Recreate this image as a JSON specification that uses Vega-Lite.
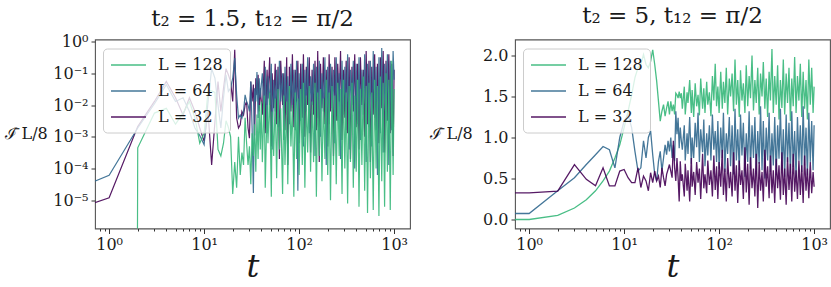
{
"$schema": "https://vega.github.io/schema/vega-lite/v6.json",
"padding": {"left": 3, "top": 3.5, "right": 2, "bottom": 2},
"background": "white",
"config": {
  "view": {"stroke": "#555555", "strokeWidth": 1.1},
  "axis": {"grid": false, "domain": false, "labelFont": "DejaVu Serif", "labelFontSize": 16, "labelColor": "#1a1a1a", "tickColor": "#333333", "tickWidth": 1, "labelPadding": 3, "labelFlush": false, "labelOverlap": false, "titleFont": "DejaVu Serif", "titleFontWeight": "normal", "titleColor": "#1a1a1a"},
  "title": {"font": "DejaVu Serif", "fontSize": 23, "fontWeight": "normal", "color": "#1a1a1a", "baseline": "alphabetic"}
},
"datasets": {"d": [
{"t":0.5,"a128":1e-300,"a64":2.6e-5,"a32":6e-6,"b128":0,"b64":0.073,"b32":0.325},
{"t":1,"a128":1e-300,"a64":6.2e-5,"a32":1.2e-5,"b128":0,"b64":0.073,"b32":0.325},
{"t":2,"a128":4.5e-4,"a64":1.9e-3,"a32":2.1e-3,"b128":0.05,"b64":0.35,"b32":0.345},
{"t":3,"a128":5.6e-3,"a64":1.1e-2,"a32":1.3e-2,"b128":0.14,"b64":0.51,"b32":0.67},
{"t":4,"a128":7.9e-3,"a64":4.4e-2,"a32":5.5e-2,"b128":0.24,"b64":0.67,"b32":0.49},
{"t":5,"a128":2.5e-3,"a64":1.3e-2,"a32":1.7e-2,"b128":0.35,"b64":0.79,"b32":0.41},
{"t":6,"a128":5.6e-3,"a64":1.7e-2,"a32":4.9e-3,"b128":0.47,"b64":0.89,"b32":0.63},
{"t":7,"a128":1.3e-2,"a64":6.3e-3,"a32":1.7e-2,"b128":0.59,"b64":0.85,"b32":0.41},
{"t":8,"a128":4e-3,"a64":1.9e-3,"a32":6.3e-3,"b128":0.75,"b64":0.63,"b32":0.41},
{"t":9,"a128":6.3e-4,"a64":1.1e-3,"a32":1.9e-3,"b128":0.91,"b64":1.0,"b32":0.59},
{"t":10,"a128":1.3e-3,"a64":5.6e-4,"a32":7.2e-4,"b128":1.12,"b64":1.2,"b32":0.61},
{"t":11,"a128":2.8e-2,"a64":1.3e-2,"a32":6.3e-3,"b128":1.32,"b64":1.28,"b32":0.51},
{"t":12,"a128":2.8e-2,"a64":1.4e-1,"a32":1.3e-4,"b128":1.52,"b64":1.12,"b32":0.45},
{"t":13,"a128":2.5e-2,"a64":7e-2,"a32":3e-3,"b128":1.73,"b64":0.83,"b32":0.45},
{"t":14,"a128":4e-4,"a64":1e-2,"a32":5.5e-2,"b128":1.85,"b64":0.59,"b32":0.63},
{"t":15,"a128":2.5e-4,"a64":1.9e-3,"a32":6.3e-3,"b128":1.89,"b64":0.63,"b32":0.39},
{"t":16,"a128":6.3e-4,"a64":1.7e-2,"a32":3.4e-2,"b128":2.01,"b64":0.96,"b32":0.53},
{"t":17,"a128":3.2e-3,"a64":9e-2,"a32":1.4e-1,"b128":1.89,"b64":0.75,"b32":0.47},
{"t":18,"a128":2e-3,"a64":2.7e-2,"a32":9e-2,"b128":1.85,"b64":1.0,"b32":0.35},
{"t":19,"a128":1e-3,"a64":3.4e-2,"a32":5.5e-2,"b128":1.93,"b64":1.08,"b32":0.57},
{"t":20,"a128":1.6e-5,"a64":7e-2,"a32":1.3e-2,"b128":2.07,"b64":0.79,"b32":0.45},
{"t":21,"a128":1.6e-4,"a64":3e-1,"a32":5.5e-1,"b128":1.89,"b64":0.55,"b32":0.59},
{"t":22,"a128":2.5e-5,"a64":2.1e-2,"a32":3.9e-3,"b128":1.69,"b64":0.47,"b32":0.47},
{"t":23,"a128":1e-3,"a64":3.9e-3,"a32":1.9e-3,"b128":1.44,"b64":0.71,"b32":0.53},
{"t":24,"a128":6.3e-5,"a64":4.9e-3,"a32":2.4e-3,"b128":1.2,"b64":0.83,"b32":0.39},
{"t":25,"a128":3.2e-4,"a64":3.9e-3,"a32":6.3e-3,"b128":1.32,"b64":0.59,"b32":0.63},
{"t":26,"a128":1.3e-4,"a64":6.3e-3,"a32":4.9e-3,"b128":1.40,"b64":0.75,"b32":0.51},
{"t":27,"a128":4e-3,"a64":2.1e-2,"a32":1e-2,"b128":1.26,"b64":0.91,"b32":0.41},
{"t":28,"a128":6.3e-4,"a64":1.3e-2,"a32":1.3e-2,"b128":1.36,"b64":0.79,"b32":0.55},
{"t":29,"a128":1.3e-4,"a64":1e-2,"a32":1.9e-3,"b128":1.44,"b64":0.96,"b32":0.61},
{"t":30,"a128":5e-4,"a64":6.3e-3,"a32":9e-4,"b128":1.28,"b64":0.83,"b32":0.67},
{"t":31,"a128":3.2e-5,"a64":5.5e-2,"a32":5.5e-2,"b128":1.44,"b64":1.0,"b32":0.59},
{"t":32,"a128":1.3e-3,"a64":1.9e-3,"a32":1.3e-2,"b128":1.32,"b64":0.75,"b32":0.51},
{"t":33,"a128":2.5e-4,"a64":1.7e-5,"a32":4.4e-2,"b128":1.40,"b64":0.91,"b32":0.96},
{"t":34,"a128":2.5e-3,"a64":3.4e-2,"a32":1.1e-3,"b128":1.28,"b64":0.71,"b32":0.63},
{"t":35,"a128":8e-5,"a64":1.3e-2,"a32":7e-2,"b128":1.54,"b64":1.32,"b32":0.47},
{"t":36,"a128":5e-3,"a64":1.1e-1,"a32":2.1e-2,"b128":1.52,"b64":1.04,"b32":0.75},
{"t":37,"a128":2e-4,"a64":3.9e-3,"a32":9e-2,"b128":1.48,"b64":1.24,"b32":0.51},
{"t":38,"a128":1e-2,"a64":7e-2,"a32":6.3e-3,"b128":1.56,"b64":0.87,"b32":0.22},
{"t":39,"a128":4e-4,"a64":1.7e-2,"a32":3.4e-2,"b128":1.48,"b64":1.12,"b32":0.71},
{"t":40,"a128":1.3e-2,"a64":4.4e-2,"a32":1.3e-2,"b128":1.54,"b64":0.96,"b32":0.47},
{"t":41,"a128":1.6e-4,"a64":1e-1,"a32":5e-3,"b128":1.35,"b64":0.85,"b32":0.55},
{"t":43,"a128":2e-2,"a64":4e-3,"a32":2.5e-1,"b128":1.62,"b64":1.15,"b32":0.28},
{"t":44,"a128":2.5e-5,"a64":1.6e-1,"a32":1.3e-3,"b128":1.28,"b64":0.72,"b32":0.68},
{"t":46,"a128":1e-2,"a64":1.3e-3,"a32":1.3e-1,"b128":1.55,"b64":1.05,"b32":0.35},
{"t":47,"a128":6.3e-4,"a64":8e-2,"a32":1.6e-2,"b128":1.42,"b64":0.80,"b32":0.60},
{"t":49,"a128":2.5e-2,"a64":1e-2,"a32":3.2e-1,"b128":1.70,"b64":1.25,"b32":0.22},
{"t":51,"a128":1.3e-5,"a64":2e-1,"a32":5e-4,"b128":1.30,"b64":0.68,"b32":0.75},
{"t":52,"a128":6.3e-3,"a64":4e-4,"a32":1e-1,"b128":1.58,"b64":1.00,"b32":0.40},
{"t":54,"a128":2.5e-4,"a64":6.3e-2,"a32":8e-3,"b128":1.25,"b64":0.75,"b32":0.58},
{"t":56,"a128":1.6e-2,"a64":6.3e-3,"a32":2e-1,"b128":1.66,"b64":1.18,"b32":0.30},
{"t":58,"a128":5e-5,"a64":1.3e-1,"a32":2.5e-3,"b128":1.38,"b64":0.88,"b32":0.70},
{"t":60,"a128":3.2e-2,"a64":2e-3,"a32":1.6e-1,"b128":1.52,"b64":1.30,"b32":0.45},
{"t":62,"a128":4e-4,"a64":2.5e-1,"a32":2e-4,"b128":1.27,"b64":0.70,"b32":0.62},
{"t":64,"a128":8e-3,"a64":1.3e-2,"a32":2.5e-1,"b128":1.72,"b64":1.10,"b32":0.25},
{"t":67,"a128":1.6e-5,"a64":1e-1,"a32":1e-2,"b128":1.35,"b64":0.82,"b32":0.80},
{"t":69,"a128":2e-2,"a64":8e-4,"a32":1e-1,"b128":1.60,"b64":1.22,"b32":0.38},
{"t":71,"a128":1.3e-4,"a64":1.6e-1,"a32":1.6e-3,"b128":1.30,"b64":0.65,"b32":0.55},
{"t":74,"a128":1.3e-2,"a64":5e-3,"a32":3.2e-1,"b128":1.68,"b64":1.05,"b32":0.32},
{"t":76,"a128":3.2e-5,"a64":8e-2,"a32":1.3e-4,"b128":1.40,"b64":0.78,"b32":0.72},
{"t":79,"a128":4e-2,"a64":2.5e-3,"a32":1.6e-1,"b128":1.55,"b64":1.15,"b32":0.42},
{"t":82,"a128":5e-4,"a64":2e-1,"a32":6.3e-3,"b128":1.26,"b64":0.72,"b32":0.60},
{"t":85,"a128":1e-2,"a64":8e-3,"a32":4e-1,"b128":1.75,"b64":1.28,"b32":0.28},
{"t":88,"a128":1.3e-5,"a64":1.3e-1,"a32":2e-3,"b128":1.45,"b64":0.85,"b32":0.78},
{"t":91,"a128":2.5e-2,"a64":1.6e-3,"a32":1.3e-1,"b128":1.90,"b64":1.08,"b32":0.36},
{"t":94,"a128":2e-4,"a64":2.5e-1,"a32":1.3e-2,"b128":1.38,"b64":0.70,"b32":0.65},
{"t":97,"a128":1.6e-2,"a64":2e-5,"a32":2.5e-1,"b128":1.62,"b64":1.20,"b32":0.25},
{"t":100,"a128":6.3e-5,"a64":1e-1,"a32":6.3e-4,"b128":1.30,"b64":0.62,"b32":0.70},
{"t":104,"a128":3.2e-2,"a64":3.2e-3,"a32":2e-1,"b128":1.80,"b64":1.12,"b32":0.40},
{"t":108,"a128":1.3e-4,"a64":2e-1,"a32":4e-3,"b128":1.35,"b64":0.75,"b32":0.85},
{"t":111,"a128":5e-2,"a64":5e-4,"a32":4e-1,"b128":1.68,"b64":1.30,"b32":0.30},
{"t":115,"a128":2.5e-5,"a64":1.3e-1,"a32":1e-3,"b128":1.42,"b64":0.58,"b32":0.62},
{"t":119,"a128":2e-2,"a64":6.3e-3,"a32":1.6e-1,"b128":1.85,"b64":1.05,"b32":0.22},
{"t":123,"a128":3.2e-4,"a64":3.2e-1,"a32":1e-2,"b128":1.28,"b64":0.80,"b32":0.75},
{"t":128,"a128":4e-2,"a64":1.3e-3,"a32":3.2e-1,"b128":1.72,"b64":1.25,"b32":0.38},
{"t":132,"a128":8e-5,"a64":8e-2,"a32":3.2e-4,"b128":1.50,"b64":0.65,"b32":0.58},
{"t":137,"a128":1.3e-2,"a64":1e-2,"a32":1.3e-1,"b128":1.78,"b64":1.15,"b32":0.28},
{"t":142,"a128":1.6e-4,"a64":2e-1,"a32":5e-3,"b128":1.32,"b64":0.55,"b32":0.82},
{"t":147,"a128":5e-2,"a64":2.5e-4,"a32":2.5e-1,"b128":1.95,"b64":1.35,"b32":0.35},
{"t":152,"a128":1.3e-5,"a64":1.6e-1,"a32":1.6e-3,"b128":1.40,"b64":0.72,"b32":0.66},
{"t":157,"a128":2.5e-2,"a64":4e-3,"a32":5e-1,"b128":1.70,"b64":1.10,"b32":0.20},
{"t":163,"a128":2.5e-4,"a64":2.5e-1,"a32":1.6e-4,"b128":1.25,"b64":0.60,"b32":0.72},
{"t":168,"a128":3.2e-2,"a64":1e-3,"a32":2e-1,"b128":1.82,"b64":1.28,"b32":0.42},
{"t":174,"a128":4e-5,"a64":1e-1,"a32":8e-3,"b128":1.45,"b64":0.78,"b32":0.60},
{"t":180,"a128":1.6e-2,"a64":6.3e-3,"a32":3.2e-1,"b128":1.66,"b64":1.18,"b32":0.25},
{"t":187,"a128":2e-4,"a64":3.2e-1,"a32":2.5e-3,"b128":1.30,"b64":0.52,"b32":0.88},
{"t":193,"a128":6.3e-2,"a64":1.3e-4,"a32":1.3e-1,"b128":1.88,"b64":1.05,"b32":0.33},
{"t":200,"a128":6.3e-5,"a64":1.6e-1,"a32":5e-4,"b128":1.38,"b64":0.70,"b32":0.68},
{"t":207,"a128":2.5e-2,"a64":2.5e-3,"a32":4e-1,"b128":1.75,"b64":1.32,"b32":0.18},
{"t":214,"a128":1e-5,"a64":2e-1,"a32":6.3e-3,"b128":1.48,"b64":0.62,"b32":0.76},
{"t":222,"a128":4e-2,"a64":8e-3,"a32":1.6e-1,"b128":2.00,"b64":1.15,"b32":0.38},
{"t":230,"a128":1.3e-4,"a64":1.3e-1,"a32":2.5e-4,"b128":1.33,"b64":0.75,"b32":0.62},
{"t":238,"a128":2e-2,"a64":6.3e-4,"a32":3.2e-1,"b128":1.70,"b64":1.25,"b32":0.28},
{"t":246,"a128":3.2e-5,"a64":3.2e-1,"a32":3.2e-3,"b128":1.42,"b64":0.55,"b32":0.80},
{"t":255,"a128":5e-2,"a64":3.2e-3,"a32":2e-1,"b128":1.85,"b64":1.08,"b32":0.14},
{"t":264,"a128":2.5e-4,"a64":1e-1,"a32":1.3e-2,"b128":1.28,"b64":0.68,"b32":0.70},
{"t":273,"a128":3.2e-2,"a64":2e-4,"a32":5e-1,"b128":1.78,"b64":1.38,"b32":0.35},
{"t":283,"a128":1.6e-5,"a64":2.5e-1,"a32":8e-4,"b128":1.50,"b64":0.60,"b32":0.58},
{"t":292,"a128":6.3e-2,"a64":5e-3,"a32":1.3e-1,"b128":1.92,"b64":1.20,"b32":0.22},
{"t":303,"a128":1e-4,"a64":1.6e-1,"a32":4e-3,"b128":1.35,"b64":0.50,"b32":0.85},
{"t":313,"a128":2.5e-2,"a64":1.6e-3,"a32":2.5e-1,"b128":1.72,"b64":1.12,"b32":0.40},
{"t":324,"a128":8e-6,"a64":4e-1,"a32":1.3e-3,"b128":1.25,"b64":0.72,"b32":0.65},
{"t":336,"a128":4e-2,"a64":4e-4,"a32":3.2e-1,"b128":1.80,"b64":1.30,"b32":0.26},
{"t":347,"a128":1.6e-4,"a64":1.3e-1,"a32":2e-4,"b128":1.45,"b64":0.58,"b32":0.78},
{"t":360,"a128":5e-2,"a64":1e-2,"a32":1.6e-1,"b128":2.08,"b64":1.05,"b32":0.32},
{"t":372,"a128":2.5e-5,"a64":2.5e-1,"a32":6.3e-3,"b128":1.30,"b64":0.66,"b32":0.60},
{"t":385,"a128":2e-2,"a64":1e-4,"a32":4e-1,"b128":1.75,"b64":1.25,"b32":0.20},
{"t":399,"a128":8e-5,"a64":2e-1,"a32":2e-3,"b128":1.40,"b64":0.54,"b32":0.74},
{"t":413,"a128":6.3e-2,"a64":2.5e-3,"a32":2e-1,"b128":1.88,"b64":1.15,"b32":0.38},
{"t":427,"a128":6.3e-6,"a64":3.2e-1,"a32":4e-4,"b128":1.22,"b64":0.74,"b32":0.66},
{"t":442,"a128":3.2e-2,"a64":8e-4,"a32":3.2e-1,"b128":1.70,"b64":1.35,"b32":0.24},
{"t":458,"a128":1.3e-4,"a64":1.3e-1,"a32":1e-2,"b128":1.36,"b64":0.60,"b32":0.82},
{"t":474,"a128":8e-2,"a64":5e-3,"a32":1.3e-1,"b128":1.95,"b64":1.10,"b32":0.30},
{"t":490,"a128":2e-5,"a64":4e-1,"a32":1e-3,"b128":1.28,"b64":0.52,"b32":0.62},
{"t":508,"a128":4e-2,"a64":1.6e-4,"a32":5e-1,"b128":1.78,"b64":1.28,"b32":0.18},
{"t":525,"a128":4e-6,"a64":2e-1,"a32":2.5e-3,"b128":1.42,"b64":0.70,"b32":0.76},
{"t":544,"a128":5e-2,"a64":2e-3,"a32":2.5e-1,"b128":1.85,"b64":1.18,"b32":0.36},
{"t":563,"a128":5e-5,"a64":2.5e-1,"a32":1.6e-4,"b128":1.20,"b64":0.56,"b32":0.68},
{"t":582,"a128":2.5e-2,"a64":5e-4,"a32":1.6e-1,"b128":1.72,"b64":1.32,"b32":0.22},
{"t":603,"a128":5e-6,"a64":5e-1,"a32":5e-3,"b128":1.38,"b64":0.64,"b32":0.80},
{"t":624,"a128":6.3e-2,"a64":4e-3,"a32":4e-1,"b128":1.98,"b64":1.08,"b32":0.34},
{"t":646,"a128":1e-4,"a64":1.6e-1,"a32":1.6e-3,"b128":1.30,"b64":0.50,"b32":0.60},
{"t":668,"a128":4e-2,"a64":6.3e-5,"a32":2e-1,"b128":1.75,"b64":1.25,"b32":0.25},
{"t":692,"a128":3.2e-6,"a64":3.2e-1,"a32":6.3e-4,"b128":1.45,"b64":0.72,"b32":0.72},
{"t":716,"a128":8e-2,"a64":1.3e-3,"a32":3.2e-1,"b128":1.90,"b64":1.15,"b32":0.30},
{"t":741,"a128":4e-5,"a64":6.3e-1,"a32":8e-3,"b128":1.25,"b64":0.58,"b32":0.66},
{"t":767,"a128":5e-2,"a64":3.2e-4,"a32":5e-1,"b128":1.80,"b64":1.38,"b32":0.20},
{"t":794,"a128":6.3e-6,"a64":2e-1,"a32":3.2e-4,"b128":1.35,"b64":0.66,"b32":0.78},
{"t":822,"a128":1e-1,"a64":3.2e-3,"a32":2.5e-1,"b128":1.70,"b64":1.12,"b32":0.35},
{"t":850,"a128":8e-5,"a64":4e-1,"a32":3.2e-3,"b128":1.22,"b64":0.54,"b32":0.62},
{"t":880,"a128":6.3e-2,"a64":1.3e-4,"a32":4e-1,"b128":1.95,"b64":1.30,"b32":0.26},
{"t":911,"a128":5e-6,"a64":2.5e-1,"a32":1.3e-3,"b128":1.40,"b64":0.70,"b32":0.70},
{"t":943,"a128":2.5e-1,"a64":1.6e-3,"a32":2e-1,"b128":1.85,"b64":1.20,"b32":0.32},
{"t":976,"a128":6.3e-5,"a64":5e-1,"a32":2.5e-4,"b128":1.30,"b64":0.60,"b32":0.58},
{"t":1000,"a128":3.2e-2,"a64":6.3e-2,"a32":1.3e-1,"b128":1.62,"b64":1.15,"b32":0.40}
]},
"resolve": {"scale": {"color": "independent"}},
"bounds": "flush",
"spacing": 105,
"hconcat": [
{
  "width": 315, "height": 189,
  "title": {"text": "t₂ = 1.5, t₁₂ = π/2", "offset": 3},
  "data": {"name": "d"},
  "encoding": {"x": {"field": "t", "type": "quantitative", "scale": {"type": "log", "domain": [0.71, 1470], "nice": false},
    "axis": {"title": "t", "titleFontStyle": "italic", "titleFontSize": 32, "titleBaseline": "alphabetic", "titleY": 48,
      "values": [0.8,0.9,1,2,3,4,5,6,7,8,9,10,20,30,40,50,60,70,80,90,100,200,300,400,500,600,700,800,900,1000],
      "tickSize": {"condition": {"test": "abs(log(datum.value)/LN10 - round(log(datum.value)/LN10)) < 0.001", "value": 5}, "value": 2.5},
      "labelExpr": "abs(log(datum.value)/LN10 - round(log(datum.value)/LN10)) < 0.001 ? '10' + replace(replace(replace(replace(replace(replace(replace(''+round(log(datum.value)/LN10),'-','⁻'),'0','⁰'),'1','¹'),'2','²'),'3','³'),'4','⁴'),'5','⁵') : ''"}}},
  "layer": [
    {"mark": {"type": "line", "strokeWidth": 1.2, "opacity": 0.9, "clip": true},
     "encoding": {"y": {"field": "a32", "type": "quantitative", "title": "ℐ̄ L/8", "scale": {"type": "log", "domain": [1.3e-6, 1.16], "nice": false},
        "axis": {"values": [1e-5,1e-4,1e-3,1e-2,1e-1,1], "tickSize": 4, "titleAngle": 0, "titleAlign": "left", "titleBaseline": "middle", "titleX": -91, "titleY": 94, "titleFont": "DejaVu Serif", "titleFontSize": 16,
          "labelExpr": "'10' + replace(replace(replace(replace(replace(replace(replace(''+round(log(datum.value)/LN10),'-','⁻'),'0','⁰'),'1','¹'),'2','²'),'3','³'),'4','⁴'),'5','⁵')"}},
      "color": {"datum": "L = 32", "scale": {"domain": ["L = 128", "L = 64", "L = 32"], "range": ["#35b779", "#31688e", "#440154"]},
        "legend": {"title": null, "orient": "none", "legendX": 8, "legendY": 9, "fillColor": "rgba(255,255,255,0.8)", "strokeColor": "#cccccc", "cornerRadius": 4, "padding": 7, "labelFont": "DejaVu Serif", "labelFontSize": 16, "labelColor": "#1a1a1a", "symbolType": "M-2,0H2", "symbolSize": 306, "symbolStrokeWidth": 1.5, "symbolOffset": 9, "labelOffset": 20, "rowPadding": 8}}}},
    {"mark": {"type": "line", "strokeWidth": 1.2, "opacity": 0.9, "clip": true},
     "encoding": {"y": {"field": "a64", "type": "quantitative", "title": "ℐ̄ L/8"}, "color": {"datum": "L = 64"}}},
    {"mark": {"type": "line", "strokeWidth": 1.2, "opacity": 0.9, "clip": true},
     "encoding": {"y": {"field": "a128", "type": "quantitative", "title": "ℐ̄ L/8"}, "color": {"datum": "L = 128"}}}
  ]
},
{
  "width": 315, "height": 189,
  "title": {"text": "t₂ = 5, t₁₂ = π/2", "offset": 11.5},
  "data": {"name": "d"},
  "encoding": {"x": {"field": "t", "type": "quantitative", "scale": {"type": "log", "domain": [0.71, 1470], "nice": false},
    "axis": {"title": "t", "titleFontStyle": "italic", "titleFontSize": 32, "titleBaseline": "alphabetic", "titleY": 48,
      "values": [0.8,0.9,1,2,3,4,5,6,7,8,9,10,20,30,40,50,60,70,80,90,100,200,300,400,500,600,700,800,900,1000],
      "tickSize": {"condition": {"test": "abs(log(datum.value)/LN10 - round(log(datum.value)/LN10)) < 0.001", "value": 5}, "value": 2.5},
      "labelExpr": "abs(log(datum.value)/LN10 - round(log(datum.value)/LN10)) < 0.001 ? '10' + replace(replace(replace(replace(replace(replace(replace(''+round(log(datum.value)/LN10),'-','⁻'),'0','⁰'),'1','¹'),'2','²'),'3','³'),'4','⁴'),'5','⁵') : ''"}}},
  "layer": [
    {"mark": {"type": "line", "strokeWidth": 1.3, "opacity": 0.9, "clip": true},
     "encoding": {"y": {"field": "b128", "type": "quantitative", "title": "ℐ̄ L/8", "scale": {"domain": [-0.11, 2.195], "nice": false, "zero": false},
        "axis": {"values": [0, 0.5, 1, 1.5, 2], "format": ".1f", "tickSize": 4, "titleAngle": 0, "titleAlign": "left", "titleBaseline": "middle", "titleX": -86, "titleY": 94, "titleFont": "DejaVu Serif", "titleFontSize": 16}},
      "color": {"datum": "L = 128", "scale": {"domain": ["L = 128", "L = 64", "L = 32"], "range": ["#35b779", "#31688e", "#440154"]},
        "legend": {"title": null, "orient": "none", "legendX": 8, "legendY": 9, "fillColor": "rgba(255,255,255,0.8)", "strokeColor": "#cccccc", "cornerRadius": 4, "padding": 7, "labelFont": "DejaVu Serif", "labelFontSize": 16, "labelColor": "#1a1a1a", "symbolType": "M-2,0H2", "symbolSize": 306, "symbolStrokeWidth": 1.5, "symbolOffset": 9, "labelOffset": 20, "rowPadding": 8}}}},
    {"mark": {"type": "line", "strokeWidth": 1.3, "opacity": 0.9, "clip": true},
     "encoding": {"y": {"field": "b64", "type": "quantitative", "title": "ℐ̄ L/8"}, "color": {"datum": "L = 64"}}},
    {"mark": {"type": "line", "strokeWidth": 1.3, "opacity": 0.9, "clip": true},
     "encoding": {"y": {"field": "b32", "type": "quantitative", "title": "ℐ̄ L/8"}, "color": {"datum": "L = 32"}}}
  ]
}
]
}
